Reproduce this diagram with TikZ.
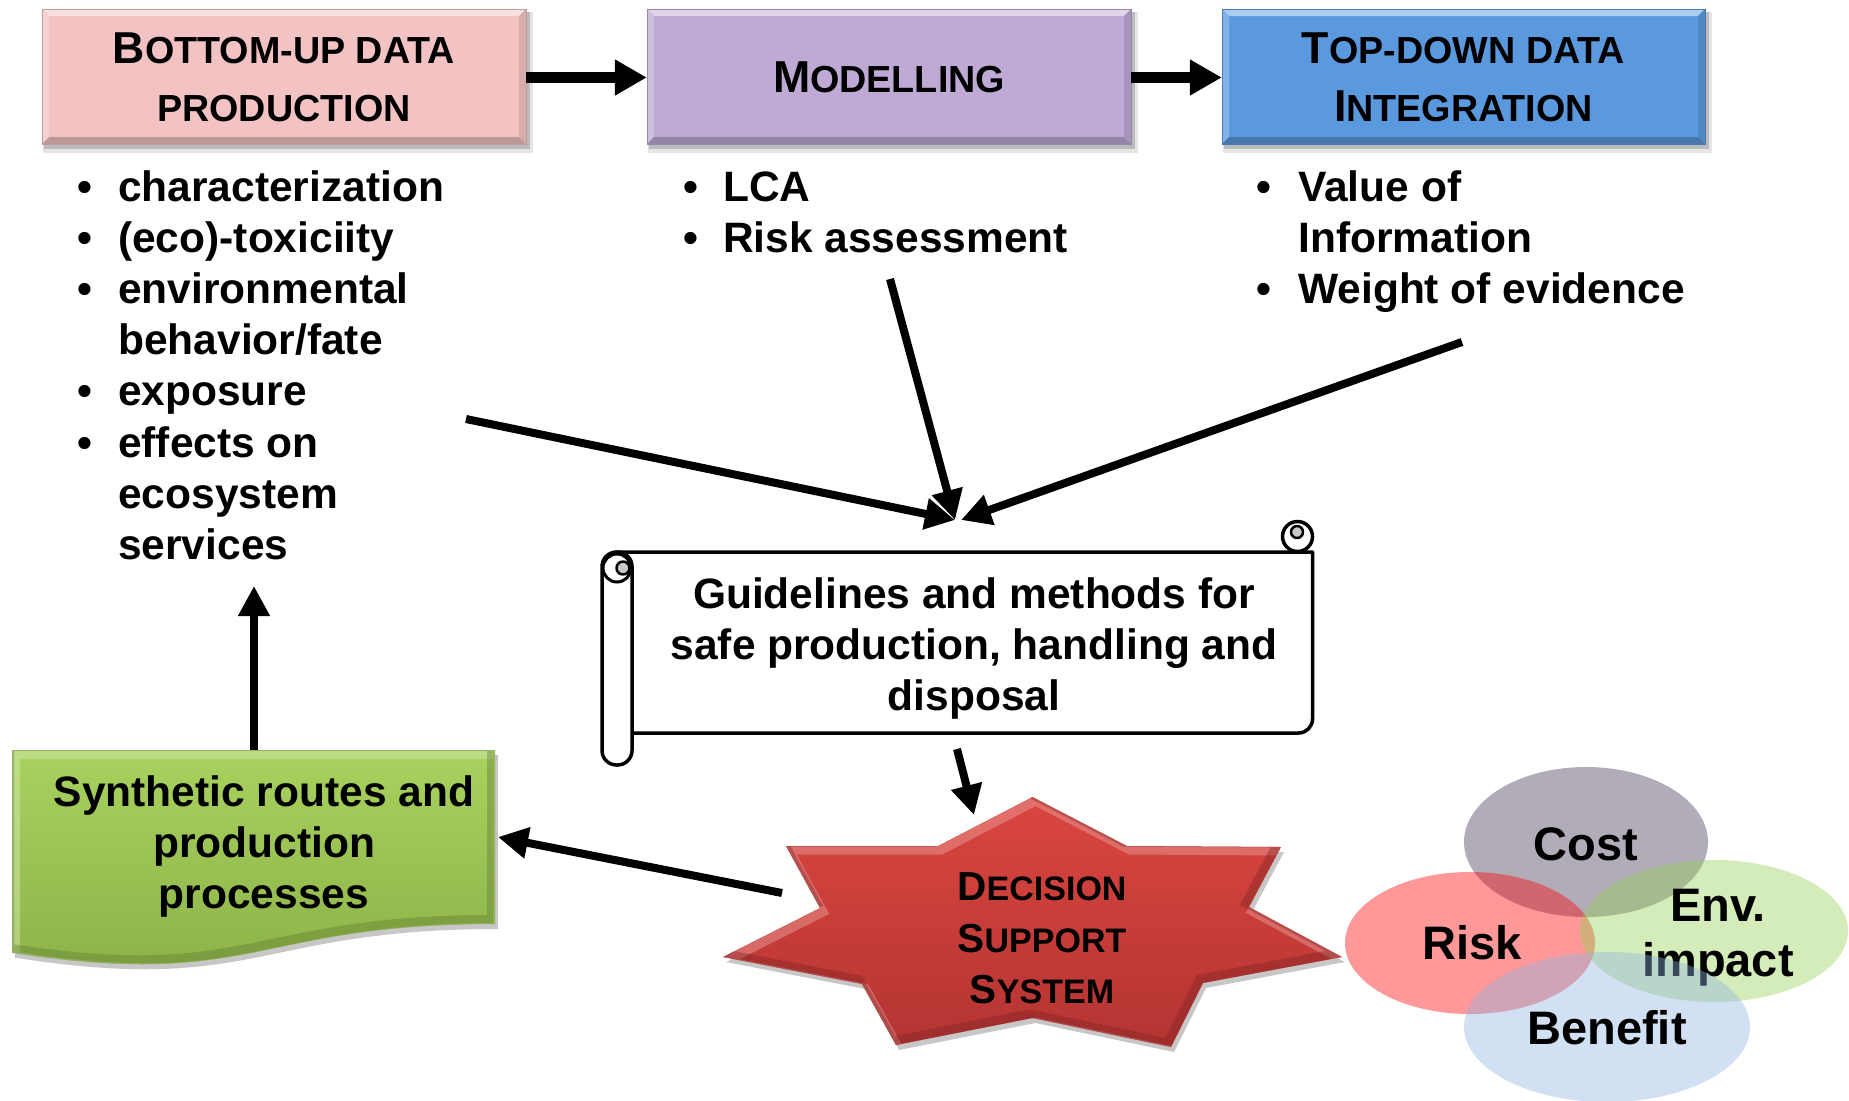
\documentclass[tikz,border=0pt]{standalone}
\usepackage{fontspec}
\setmainfont{Liberation Sans}
\usetikzlibrary{arrows.meta}

\definecolor{pinkbox}{RGB}{243,195,195}
\definecolor{lilacbox}{RGB}{190,170,213}
\definecolor{bluebox}{RGB}{91,153,222}
\definecolor{greentop}{RGB}{168,210,94}
\definecolor{greenbot}{RGB}{138,176,70}
\definecolor{startop}{RGB}{218,70,64}
\definecolor{starbot}{RGB}{180,52,50}
\definecolor{curlgray}{RGB}{200,200,200}
\definecolor{costc}{RGB}{64,49,82}
\definecolor{riskc}{RGB}{255,0,0}
\definecolor{envc}{RGB}{146,208,80}
\definecolor{benc}{RGB}{141,179,226}

% bevelled rectangle with a soft drop shadow: x1 y1 x2 y2 colour
\newcommand\BevelBox[5]{%
  \fill[black,opacity=.10] ({#1+1},{#2+3}) rectangle ({#3+7},{#4+9});
  \fill[black,opacity=.18] ({#1+2},{#2+3}) rectangle ({#3+4},{#4+5});
  \fill[#5] (#1,#2) rectangle (#3,#4);
  \fill[#5!50!white] (#1,#2) -- (#3,#2) -- ({#3-7},{#2+7}) -- ({#1+7},{#2+7}) -- cycle;
  \fill[#5!75!white] (#1,#2) -- ({#1+7},{#2+7}) -- ({#1+7},{#4-7}) -- (#1,#4) -- cycle;
  \fill[#5!78!black] (#1,#4) -- (#3,#4) -- ({#3-7},{#4-7}) -- ({#1+7},{#4-7}) -- cycle;
  \fill[#5!88!black] (#3,#2) -- (#3,#4) -- ({#3-7},{#4-7}) -- ({#3-7},{#2+7}) -- cycle;
  \draw[#5!80!black,line width=1] (#1,#2) rectangle (#3,#4);
}

% outlines of the star and of the wavy document shape
\newcommand\StarPath{(1032.5,797) -- (1127,846) -- (1281,847) -- (1249,907) -- (1342,957) -- (1203,983) -- (1171,1047) -- (1032.5,1018) -- (896,1045) -- (862,984) -- (723,957) -- (820,908) -- (786,846) -- (938,846) -- cycle}
\newcommand\WavePath{(12,750) -- (495,750) -- (495,924) .. controls (253.5,924) and (253.5,990.3) .. (12,952.7) -- cycle}

% small capitals built from two sizes
\newcommand\HdCap[1]{{\fontsize{44.7}{58}\selectfont #1}}
\newcommand\StCap[1]{{\fontsize{40.5}{51.5}\selectfont #1}}

\tikzset{
  hdr/.style={align=center, inner sep=0pt, minimum width=484pt, minimum height=135pt,
    font=\bfseries\fontsize{37.7}{58}\selectfont},
  listtxt/.style={inner sep=0pt, anchor=base west, font=\bfseries\fontsize{42.5}{51.2}\selectfont},
  bodytxt/.style={align=center, inner sep=0pt, font=\bfseries\fontsize{42.5}{51}\selectfont},
  venntxt/.style={align=center, inner sep=0pt, font=\bfseries\fontsize{47}{55}\selectfont},
  startxt/.style={align=center, inner sep=0pt, font=\bfseries\fontsize{34}{51.5}\selectfont},
  scrollline/.style={line width=3.5pt, draw=black, fill=white, line join=round},
  flow/.style={line width=8pt, -{Triangle[length=30pt,width=30pt]}},
  bigflow/.style={line width=11pt, -{Triangle[length=32pt,width=34pt]}},
}

\begin{document}
\begin{tikzpicture}[x=1pt,y=-1pt]
\useasboundingbox (0,0) rectangle (1849,1100);
\clip (0,0) rectangle (1849,1100);
\fill[white] (0,0) rectangle (1849,1100);

% --- three header panels ---
\BevelBox{42}{9}{526}{144}{pinkbox}
\BevelBox{647}{9}{1131}{144}{lilacbox}
\BevelBox{1222}{9}{1705}{144}{bluebox}
\node[hdr] (bu) at (284,77.5) {\HdCap{B}OTTOM-UP DATA\\PRODUCTION};
\node[hdr] (mod) at (889,77.5) {\HdCap{M}ODELLING};
\node[hdr, minimum width=483pt] (td) at (1463.5,77.5) {\HdCap{T}OP-DOWN DATA\\\HdCap{I}NTEGRATION};

% --- bullet lists ---
\node[listtxt] (lst1) at (77,201) {\begin{tabular}[t]{@{}p{41pt}@{}l@{}}
•&characterization\\
•&(eco)-toxiciity\\
•&environmental\\
&behavior/fate\\
•&exposure\\
•&effects on\\
&ecosystem\\
&services\end{tabular}};
\node[listtxt] (lst2) at (683,201) {\begin{tabular}[t]{@{}p{40pt}@{}l@{}}
•&LCA\\
•&Risk assessment\end{tabular}};
\node[listtxt] (lst3) at (1256,201) {\begin{tabular}[t]{@{}p{42pt}@{}l@{}}
•&Value of\\
&Information\\
•&Weight of evidence\end{tabular}};

% --- scroll ---
\filldraw[scrollline] (617,552) -- (1312.5,552) [rounded corners=14] -- (1312.5,733) -- (617,733) [sharp corners] -- cycle;
\filldraw[scrollline] (1297.5,536.5) circle[radius=15];
\filldraw[scrollline, fill=curlgray, line width=2.5pt] (1297,532) circle[radius=6];
\filldraw[scrollline, rounded corners=14.5] (602,552) rectangle (632,765);
\filldraw[scrollline, line width=3pt] (617,568) circle[radius=14];
\filldraw[scrollline, fill=curlgray, line width=2.5pt] (623,568) circle[radius=6.5];
\node[bodytxt] (guide) at (974,649) {Guidelines and methods for\\safe production, handling and\\disposal};

% --- decision star ---
\fill[black,opacity=.22,shift={(3,5)}] \StarPath;
\shade[top color=startop,bottom color=starbot] \StarPath;
\begin{scope}
  \clip \StarPath;
  \draw[line width=9pt, startop!55!white, opacity=.5, shift={(3,4)}] \StarPath;
  \draw[line width=9pt, starbot!70!black, opacity=.4, shift={(-3,-4)}] \StarPath;
\end{scope}
\node[startxt] (dss) at (1042,938.5) {\StCap{D}ECISION\\\StCap{S}UPPORT\\\StCap{S}YSTEM};

% --- synthetic routes document shape ---
\fill[black,opacity=.22,shift={(3,5)}] \WavePath;
\shade[top color=greentop,bottom color=greenbot] \WavePath;
\begin{scope}
  \clip \WavePath;
  \draw[line width=10pt, greentop!55!white, opacity=.55, shift={(3,4)}] \WavePath;
  \draw[line width=10pt, greenbot!70!black, opacity=.4, shift={(-3,-4)}] \WavePath;
\end{scope}
\node[bodytxt] (synth) at (264,846) {Synthetic routes and\\production\\processes};

% --- overlapping criteria ---
\fill[costc, opacity=.4] (1586,842) ellipse [x radius=122, y radius=75];
\fill[riskc, opacity=.4] (1470,943) ellipse [x radius=125, y radius=71];
\fill[envc, opacity=.4] (1714,931) ellipse [x radius=134, y radius=71];
\node[venntxt] (env) at (1718,937.5) {Env.\\impact};
\fill[benc, opacity=.4] (1607,1027) ellipse [x radius=143, y radius=75];
\node[venntxt] (cost) at (1586,844) {Cost};
\node[venntxt] (risk) at (1472,943) {Risk};
\node[venntxt] (benefit) at (1607,1028) {Benefit};

% --- connector end points ---
\coordinate (fromlist) at (466,419);
\coordinate (frommodel) at (890,279);
\coordinate (fromtop) at (1462,342);
\coordinate (intoguideA) at (955,520);
\coordinate (intoguideB) at (961,520);
\coordinate (guidebase) at (957,749);
\coordinate (starcap) at (974,815);
\coordinate (starside) at (782,893);
\coordinate (synthside) at (498,837);
\coordinate (synthtop) at (254,750);
\coordinate (listfoot) at (254,586);

% --- connectors ---
\draw[bigflow] (bu.east) -- (mod.west);
\draw[bigflow] (mod.east) -- (td.west);
\draw[flow] (fromlist) -- (intoguideA);
\draw[flow] (frommodel) -- (intoguideA);
\draw[flow] (fromtop) -- (intoguideB);
\draw[flow] (guidebase) -- (starcap);
\draw[flow] (starside) -- (synthside);
\draw[flow] (synthtop) -- (listfoot);
\end{tikzpicture}
\end{document}
